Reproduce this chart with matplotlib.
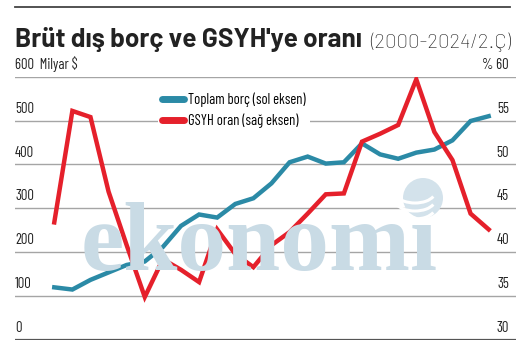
import matplotlib
matplotlib.use("Agg")
import matplotlib.pyplot as plt
import matplotlib.transforms as mtransforms
from matplotlib.lines import Line2D
from matplotlib.patches import Ellipse, Arc

years = list(range(2000, 2025))
toplam_borc = [120, 115, 137, 154, 171, 179, 212, 260, 286, 279, 310, 323, 357,
               405, 418, 402, 405, 448, 423, 413, 427, 434, 455, 499, 510]
gsyh_oran = [43.4, 56.1, 55.4, 46.9, 40.8, 34.9, 39.2, 38.0, 36.6, 42.6, 39.8, 38.3,
             40.8, 42.3, 44.4, 46.6, 46.7, 52.6, 53.5, 54.5, 59.7, 53.7, 50.5, 44.4, 42.6]
sol_ticks = [0, 100, 200, 300, 400, 500, 600]
sag_ticks = [30, 35, 40, 45, 50, 55, 60]

plt.rcParams['font.family'] = ['Barlow Condensed', 'DejaVu Sans']

mavi = "#2b8aa6"
kirmizi = "#e5202b"
W, H = 527, 353

fig = plt.figure(figsize=(W/100, H/100), dpi=100)
ax = fig.add_axes([15/W, 1-340/H, 501/W, (340-76.7)/H])
ax.set_xlim(1997.83, 2025.51)
ax.set_ylim(0, 600)
ax.axis("off")

ax2 = ax.twinx()
ax2.set_ylim(30, 60)
ax2.axis("off")

# grid lines
for v in sol_ticks:
    if v == 0:
        ax.axhline(v, color="#555555", lw=1.6, zorder=2)
    else:
        ax.axhline(v, color="#a5a5a5", lw=1.0, zorder=2)

# watermark
fig.text(81/W, 1-270/H, "ekonomi", fontsize=70, family=["Liberation Serif"],
         weight="bold", color="#c9dbe5", zorder=0.5, ha="left", va="baseline")
gx, gy, gr = 423/W, 1-198/H, 20
fig.add_artist(Ellipse((gx, gy), 2*gr/W, 2*gr/H, transform=fig.transFigure,
                       fc="#d3e2eb", ec="none", zorder=0.6))
for dy in [-10, -2, 6]:
    fig.add_artist(Arc((gx - 8/W, gy + dy/H), 40/W, 22/H, theta1=200, theta2=340,
                       transform=fig.transFigure, color="white", lw=2.2, zorder=0.7))

tr = mtransforms.offset_copy(ax.get_yaxis_transform(), fig=fig, y=3.5, units="points")
for v in sol_ticks:
    lab = "600  Milyar $" if v == 600 else str(v)
    ax.text(0.0, v, lab, transform=tr, ha="left", va="bottom", fontsize=10.5, color="#222222")
tr2 = mtransforms.offset_copy(ax2.get_yaxis_transform(), fig=fig, y=3.5, units="points")
for v in sag_ticks:
    lab = "% 60" if v == 60 else str(v)
    ax2.text(0.986, v, lab, transform=tr2, ha="right", va="bottom", fontsize=10.5, color="#222222")

ax.plot(years, toplam_borc, color=mavi, lw=3.2, solid_joinstyle="miter", zorder=3)
ax2.plot(years, gsyh_oran, color=kirmizi, lw=3.2, solid_joinstyle="miter", zorder=4)

handles = [Line2D([], [], color=mavi, lw=5, solid_capstyle="round"),
           Line2D([], [], color=kirmizi, lw=5, solid_capstyle="round")]
leg = ax2.legend(handles, ["Toplam borç (sol eksen)", "GSYH oran (sağ eksen)"],
                 loc="upper left", bbox_to_anchor=(0.285, 0.955), frameon=True,
                 fontsize=10.5, handlelength=1.5, handletextpad=0.25, labelspacing=0.45,
                 borderpad=0.3, borderaxespad=0)
leg.get_frame().set_facecolor("white")
leg.get_frame().set_edgecolor("none")
leg.get_frame().set_alpha(1)

# title and top rule
fig.add_artist(Line2D([15/W, 510/W], [1-7/H, 1-7/H], color="#444444", lw=1.3))


def fit_text(x0, x1, s, size, **kw):
    t = fig.text(x0/W, 1-47.5/H, s, fontsize=size, ha="left", va="baseline", **kw)
    fig.canvas.draw()
    w = t.get_window_extent().width
    t.set_fontsize(size * (x1 - x0) / w)
    return t


fit_text(15, 362, "Brüt dış borç ve GSYH'ye oranı", 18,
         family=["Barlow", "Roboto", "DejaVu Sans"], weight="bold", color="#222222")
fit_text(370, 510, "(2000-2024/2.Ç)", 16,
         family=["Barlow", "Roboto", "DejaVu Sans"], weight="light", color="#1e1e1e")

fig.savefig("out.png", dpi=100)
